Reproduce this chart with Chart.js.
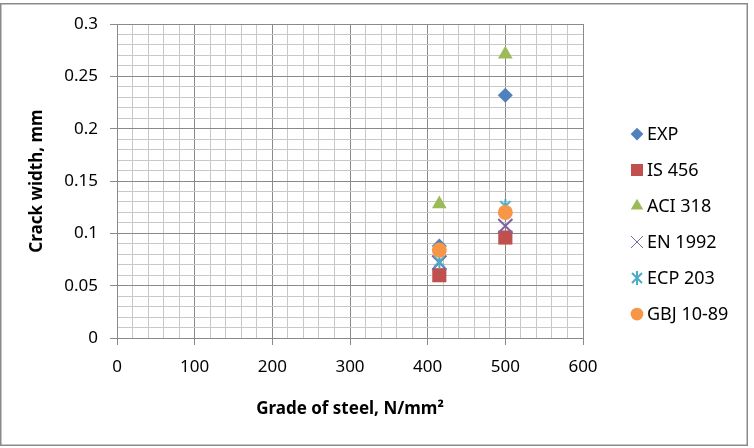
<!DOCTYPE html>
<html>
<head>
<meta charset="utf-8">
<script src="https://cdn.jsdelivr.net/npm/chart.js@4/dist/chart.umd.min.js"></script>
<style>
	body { margin: 0; background: #fff; }
	canvas { display: block; }
</style>
</head>
<body>
<canvas id="myChart" width="754" height="448"></canvas>
<script>
const SERIES = ['EXP', 'IS 456', 'ACI 318', 'EN 1992', 'ECP 203', 'GBJ 10-89']
const GRADES = [415, 500]
const EXP = [0.088, 0.232]
const IS456 = [0.060, 0.096]
const ACI318 = [0.128, 0.271]
const EN1992 = [0.072, 0.107]
const ECP203 = [0.073, 0.126]
const GBJ = [0.084, 0.120]

const FONT = '"Noto Sans", "Open Sans", sans-serif'

// excel style asterisk marker: X with a vertical bar
function starMarker(color) {
	const c = document.createElement('canvas')
	c.width = 16; c.height = 16
	const ctx = c.getContext('2d')
	ctx.strokeStyle = color
	ctx.lineWidth = 2
	ctx.beginPath()
	ctx.moveTo(3, 3); ctx.lineTo(13, 13)
	ctx.moveTo(13, 3); ctx.lineTo(3, 13)
	ctx.moveTo(8, 1); ctx.lineTo(8, 15)
	ctx.stroke()
	return c
}

const STYLES = [
	{ color: '#4F81BD', pointStyle: 'rectRot', radius: 7.5 },
	{ color: '#C0504D', pointStyle: 'rect', radius: 10 },
	{ color: '#9BBB59', pointStyle: 'triangle', radius: 8.5 },
	{ color: '#8064A2', pointStyle: 'crossRot', radius: 10, border: 2 },
	{ color: '#4BACC6', pointStyle: starMarker('#4BACC6'), radius: 8 },
	{ color: '#F79646', pointStyle: 'circle', radius: 7.5 }
]

const VALUES = [EXP, IS456, ACI318, EN1992, ECP203, GBJ]

const datasets = VALUES.map((vals, i) => ({
	label: SERIES[i],
	data: vals.map((y, k) => ({ x: GRADES[k], y })),
	pointStyle: STYLES[i].pointStyle,
	pointRadius: STYLES[i].radius,
	pointHoverRadius: STYLES[i].radius,
	backgroundColor: STYLES[i].color,
	borderColor: STYLES[i].color,
	pointBorderWidth: STYLES[i].border || 0,
	showLine: false,
	order: VALUES.length - i
}))

const frame = {
	id: 'frame',
	beforeDraw(chart) {
		const ctx = chart.ctx
		ctx.save()
		ctx.fillStyle = '#fff'
		ctx.fillRect(0, 0, chart.width, chart.height)
		ctx.strokeStyle = '#8a8a8a'
		ctx.lineWidth = 1.5
		ctx.strokeRect(0.75, 3.75, 746.5, 441.5)
		ctx.restore()
	}
}

const sideLegend = {
	id: 'sideLegend',
	afterDraw(chart) {
		const ctx = chart.ctx
		ctx.save()
		ctx.font = '18px ' + FONT
		ctx.textBaseline = 'middle'
		chart.data.datasets.forEach((ds, i) => {
			const y = 134 + i * 36
			const st = STYLES[i]
			ctx.fillStyle = st.color
			ctx.strokeStyle = st.color
			Chart.helpers.drawPoint(ctx, {
				pointStyle: st.pointStyle,
				radius: st.radius * 0.85,
				borderWidth: st.border || 0,
				rotation: 0
			}, 637, y)
			ctx.fillStyle = '#000'
			ctx.fillText(ds.label, 647, y + 1)
		})
		ctx.restore()
	}
}

const isMajorX = v => Math.round(v) % 100 === 0
const isMajorY = v => Math.round(v * 100) % 5 === 0

new Chart(document.getElementById('myChart'), {
	type: 'scatter',
	data: { datasets },
	plugins: [frame, sideLegend],
	options: {
		responsive: false,
		animation: false,
		layout: { padding: { top: 24, right: 171, left: 0, bottom: 0 } },
		plugins: {
			legend: { display: false },
			tooltip: { enabled: false }
		},
		scales: {
			x: {
				type: 'linear',
				min: 0,
				max: 600,
				afterFit(scale) { scale.height = 110 },
				border: { color: '#8a8a8a', width: 1 },
				grid: {
					color: ctx => isMajorX(ctx.tick.value) ? '#8a8a8a' : '#c8c8c8',
					tickColor: ctx => isMajorX(ctx.tick.value) ? '#8a8a8a' : 'rgba(0,0,0,0)',
					tickLength: 7
				},
				ticks: {
					stepSize: 20,
					autoSkip: false,
					maxRotation: 0,
					padding: 12,
					color: '#000',
					font: { family: FONT, size: 17 },
					callback: v => isMajorX(v) ? String(Math.round(v)) : ''
				},
				title: {
					display: true,
					text: 'Grade of steel, N/mm²',
					color: '#000',
					font: { family: FONT, size: 17, weight: 'bold' },
					padding: 29
				}
			},
			y: {
				min: 0,
				max: 0.3,
				afterFit(scale) { scale.width = 117 },
				border: { color: '#8a8a8a', width: 1 },
				grid: {
					color: ctx => isMajorY(ctx.tick.value) ? '#8a8a8a' : '#c8c8c8',
					tickColor: ctx => isMajorY(ctx.tick.value) ? '#8a8a8a' : 'rgba(0,0,0,0)',
					tickLength: 7
				},
				ticks: {
					stepSize: 0.01,
					autoSkip: false,
					padding: 12,
					color: '#000',
					font: { family: FONT, size: 17 },
					callback: v => isMajorY(v) ? String(Math.round(v * 100) / 100) : ''
				},
				title: {
					display: true,
					text: 'Crack width, mm',
					color: '#000',
					font: { family: FONT, size: 17, weight: 'bold' },
					padding: 27
				}
			}
		}
	}
})
</script>
</body>
</html>
